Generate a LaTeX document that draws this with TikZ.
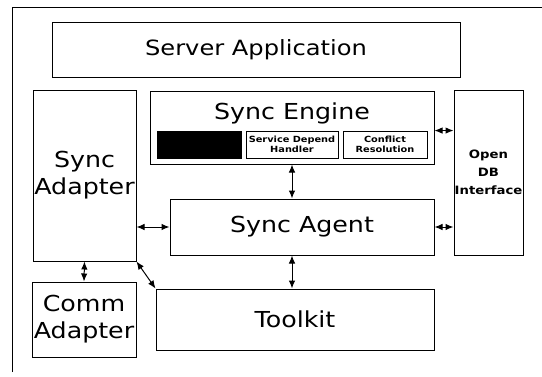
\documentclass[tikz,border=0pt]{standalone}
\usepackage{fontspec}
\setmainfont[FakeStretch=1.15]{DejaVu Sans}
\usepackage{tikz}
\usetikzlibrary{arrows.meta}
\tikzset{box/.style = {draw, line width = 1pt, inner sep = 0, align = center, font = \fontsize{22}{25}\selectfont},
  small/.style = {box, line width = 0.9pt, font = \bfseries\fontsize{8.5}{10.5}\selectfont},
  link/.style = {<->, >={Latex[length = 8pt, width = 6.5pt]}, line width = 1pt}}

\begin{document}
\begin{tikzpicture}[x = 1pt, y = -1pt]
    \useasboundingbox (0, 0) rectangle (542, 376);
    \draw [line width = 0.7pt] (12, 372) -- (12, 7) -- (542, 7);

    \node [box, minimum width = 408, minimum height = 55, font = \fontsize{21}{24}\selectfont] (server) at (256, 49.5) {Server Application};
    \node [box, minimum width = 103, minimum height = 171, font = \fontsize{22}{27}\selectfont] (adapter) at (84.5, 175.5) {Sync\\Adapter};
    \node [box, minimum width = 104, minimum height = 75, font = \fontsize{22}{27}\selectfont] (comm) at (84, 319.5) {Comm\\Adapter};

    \node [box, minimum width = 284, minimum height = 73] (engine) at (292, 127.5) {};
    \node [font = \fontsize{22}{25}\selectfont] (enginetitle) at (292, 113) {Sync Engine};
    \node [small, fill, minimum width = 84, minimum height = 27] (blank) at (199, 144.5) {};
    \node [small, minimum width = 92, minimum height = 27] (handler) at (292, 144.5) {Service Depend\\Handler};
    \node [small, minimum width = 84, minimum height = 27] (conflict) at (385, 144.5) {Conflict\\Resolution};

    \node [box, minimum width = 264, minimum height = 56] (agent) at (302, 227) {Sync Agent};
    \node [box, minimum width = 278, minimum height = 61] (toolkit) at (295, 319.5) {Toolkit};
    \node [box, minimum width = 69, minimum height = 165, font = \bfseries\fontsize{11.5}{18}\selectfont] (opendb) at (488.5, 172.5) {Open\\DB\\Interface};

    \draw [link] (engine.south -| handler.south) -- (agent.north -| handler.south);
    \draw [link] (agent.south -| handler.south) -- (toolkit.north -| handler.south);
    \draw [link] (engine.east |- conflict.north) -- (opendb.west |- conflict.north);
    \draw [link] (agent.east) -- (agent.east -| opendb.west);
    \draw [link] (agent.west -| adapter.east) -- (agent.west);
    \draw [link] (adapter.south) -- (comm.north);
    \draw [link] (adapter.south east) -- (toolkit.north west);
  \end{tikzpicture}
\end{document}
